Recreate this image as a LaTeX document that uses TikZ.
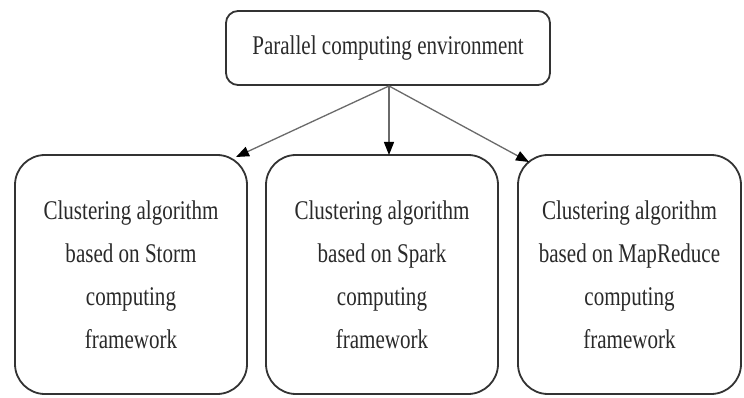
\documentclass[tikz,border=0pt]{standalone}
\usepackage{fontspec}
\newfontfamily\condserif[FakeStretch=0.78]{Liberation Serif}
\usetikzlibrary{arrows.meta}
\definecolor{boxline}{HTML}{333333}
\definecolor{txt}{HTML}{2A2A2A}
\definecolor{arrowline}{HTML}{6A6A6A}
\begin{document}
\begin{tikzpicture}[x=1pt,y=-1pt,
  topbox/.style={draw=boxline, line width=1.8pt, rounded corners=12pt, fill=white,
    minimum width=324pt, minimum height=74pt, inner sep=0pt,
    font=\condserif\fontsize{27}{42}\selectfont, text=txt},
  algbox/.style={draw=boxline, line width=1.8pt, rounded corners=30pt, fill=white,
    minimum height=239pt, inner sep=0pt, align=center,
    font=\condserif\fontsize{27}{43}\selectfont, text=txt},
  conn/.style={draw=arrowline, line width=1.3pt,
    -{Triangle[length=13pt,width=10pt,color=black]}}]
\useasboundingbox (0,0) rectangle (744,398);
\fill[white] (0,0) rectangle (744,398);
\node[topbox] (top) at (388,48) {Parallel computing environment};
\node[algbox, minimum width=232pt] (storm) at (131,274.5)
  {Clustering algorithm\\based on Storm\\computing\\framework};
\node[algbox, minimum width=232pt] (spark) at (382,274.5)
  {Clustering algorithm\\based on Spark\\computing\\framework};
\node[algbox, minimum width=223pt] (mapr) at (629.5,274.5)
  {Clustering algorithm\\based on MapReduce\\computing\\framework};
\coordinate (src) at (389,86);
\coordinate (tstorm) at (236,157);
\coordinate (tspark) at (389,155);
\coordinate (tmapr) at (529,162);
\draw[conn] (src) -- (tstorm);
\draw[conn] (src) -- (tspark);
\draw[conn] (src) -- (tmapr);
\end{tikzpicture}
\end{document}
